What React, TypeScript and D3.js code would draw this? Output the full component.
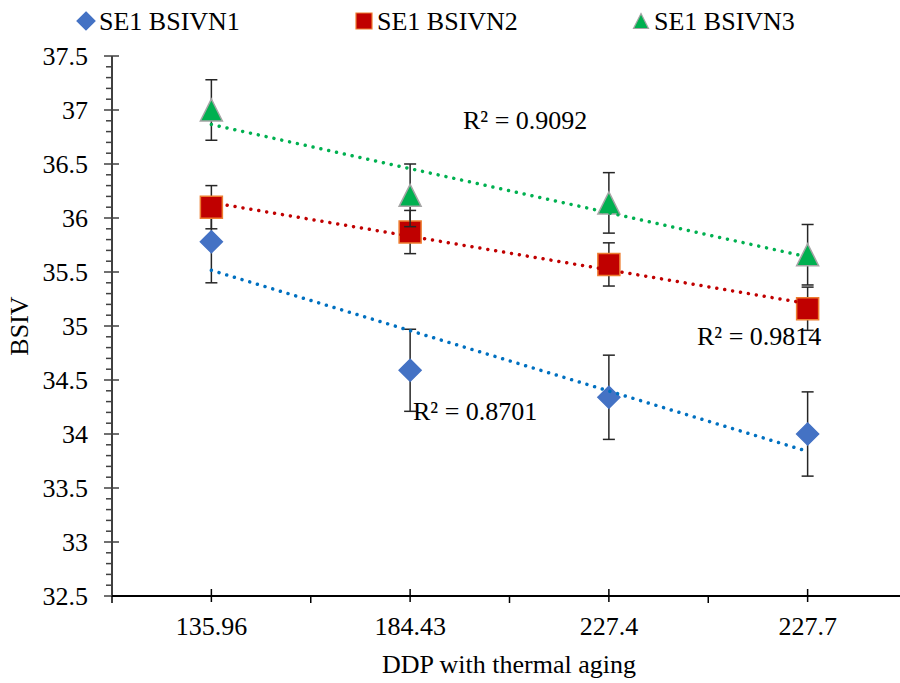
import React from 'react';
import * as d3 from 'd3';

const categories = ['135.96', '184.43', '227.4', '227.7'];
const seriesNames = ['SE1 BSIVN1', 'SE1 BSIVN2', 'SE1 BSIVN3'];
const bsivn1 = [35.78, 34.59, 34.34, 34.0];
const bsivn2 = [36.1, 35.87, 35.57, 35.16];
const bsivn3 = [37.0, 36.21, 36.14, 35.66];
const err1 = [0.38, 0.38, 0.39, 0.39];
const err2 = [0.2, 0.2, 0.2, 0.2];
const err3 = [0.28, 0.29, 0.28, 0.28];
const r2Labels = ['R² = 0.8701', 'R² = 0.9814', 'R² = 0.9092'];
const yTicks = [32.5, 33, 33.5, 34, 34.5, 35, 35.5, 36, 36.5, 37, 37.5];

const W = 900, H = 683;
const FONT = '"Liberation Serif", "Times New Roman", serif';

const seriesStyles = [
  { fill: '#4472C4', stroke: '#4472C4', trend: '#0070C0', shape: 'diamond' },
  { fill: '#C00000', stroke: '#ED7D31', trend: '#C00000', shape: 'square' },
  { fill: '#00B050', stroke: '#A5A5A5', trend: '#00B050', shape: 'triangle' },
];
const r2Pos = [
  { x: 413, y: 420 },
  { x: 697, y: 345 },
  { x: 463, y: 129 },
];

function markerPath(shape: string, s: number) {
  const h = s / 2;
  if (shape === 'diamond') return `M0,${-h}L${h},0L0,${h}L${-h},0Z`;
  if (shape === 'square') return `M${-h},${-h}H${h}V${h}H${-h}Z`;
  return `M0,${-h}L${h},${h}L${-h},${h}Z`;
}

function regression(vals: number[]) {
  const xs = vals.map((_, i) => i + 1);
  const mx = d3.mean(xs)!;
  const my = d3.mean(vals)!;
  let num = 0, den = 0;
  xs.forEach((x, i) => { num += (x - mx) * (vals[i] - my); den += (x - mx) ** 2; });
  const b = num / den;
  const a = my - b * mx;
  return (x: number) => a + b * x;
}

export default function App() {
  const x = d3.scaleBand<string>().domain(categories).range([112, 907]).paddingInner(0).paddingOuter(0);
  const y = d3.scaleLinear().domain([32.5, 37.5]).range([596, 56]);
  const bw = x.bandwidth();
  const cx = (c: string) => (x(c) as number) + bw / 2;
  const data = [bsivn1, bsivn2, bsivn3];
  const errs = [err1, err2, err3];
  const minor = d3.range(325, 376, 1).filter(v => v % 5 !== 0).map(v => v / 10);

  return (
    <svg width={W} height={H} style={{ position: 'absolute', left: 0, top: 0, background: '#fff' }} fontFamily={FONT}>
      <rect width={W} height={H} fill="#fff" />
      {/* y axis */}
      <line x1={112} x2={112} y1={y(37.5)} y2={y(32.5)} stroke="#404040" strokeWidth={2} />
      {minor.map(v => (
        <line key={'m' + v} x1={106} x2={112} y1={y(v)} y2={y(v)} stroke="#404040" strokeWidth={1.5} />
      ))}
      {yTicks.map(v => (
        <g key={'y' + v}>
          <line x1={104} x2={119} y1={y(v)} y2={y(v)} stroke="#404040" strokeWidth={1.5} />
          <text x={88} y={y(v)} dy="0.34em" textAnchor="end" fontSize={26} fill="#000">{String(v)}</text>
        </g>
      ))}
      {/* x axis */}
      <line x1={112} x2={W} y1={y(32.5)} y2={y(32.5)} stroke="#000" strokeWidth={2} />
      {categories.map(c => (
        <g key={'x' + c}>
          <line x1={x(c)} x2={x(c)} y1={y(32.5)} y2={y(32.5) + 7} stroke="#000" strokeWidth={1.5} />
          <line x1={cx(c)} x2={cx(c)} y1={y(32.5) - 7} y2={y(32.5) + 6} stroke="#000" strokeWidth={1.5} />
          <text x={cx(c)} y={635} textAnchor="middle" fontSize={26} fill="#000">{c}</text>
        </g>
      ))}
      <text x={509} y={673} textAnchor="middle" fontSize={26} fill="#000">DDP with thermal aging</text>
      <text transform={`translate(28,${(y(37.5) + y(32.5)) / 2}) rotate(-90)`} textAnchor="middle" fontSize={26} fill="#000">BSIV</text>

      {/* series: error bars + markers */}
      {data.map((vals, si) => (
        <g key={'s' + si}>
          {vals.map((v, i) => {
            const px = cx(categories[i]);
            const e = errs[si][i];
            return (
              <g key={i}>
                <line x1={px} x2={px} y1={y(v + e)} y2={y(v - e)} stroke="#262626" strokeWidth={1.5} />
                <line x1={px - 6} x2={px + 6} y1={y(v + e)} y2={y(v + e)} stroke="#262626" strokeWidth={1.5} />
                <line x1={px - 6} x2={px + 6} y1={y(v - e)} y2={y(v - e)} stroke="#262626" strokeWidth={1.5} />
              </g>
            );
          })}
          {vals.map((v, i) => (
            <path key={'p' + i} transform={`translate(${cx(categories[i])},${y(v)})`}
              d={markerPath(seriesStyles[si].shape, 22)}
              fill={seriesStyles[si].fill} stroke={seriesStyles[si].stroke} strokeWidth={1.5} />
          ))}
        </g>
      ))}

      {/* trendlines */}
      {data.map((vals, si) => {
        const f = regression(vals);
        return (
          <line key={'t' + si} x1={cx(categories[0])} y1={y(f(1))}
            x2={cx(categories[categories.length - 1])} y2={y(f(categories.length))}
            stroke={seriesStyles[si].trend} strokeWidth={3.5} strokeLinecap="round" strokeDasharray="0.01 8" />
        );
      })}

      {/* R² labels */}
      {r2Labels.map((t, i) => (
        <text key={'r' + i} x={r2Pos[i].x} y={r2Pos[i].y} fontSize={26} fill="#000">{t}</text>
      ))}

      {/* legend */}
      {seriesNames.map((n, i) => {
        const lx = [86, 364, 641][i];
        const size = [18, 16, 15][i];
        return (
          <g key={'l' + i}>
            <path transform={`translate(${lx},21)`} d={markerPath(seriesStyles[i].shape, size)}
              fill={seriesStyles[i].fill} stroke={seriesStyles[i].stroke} strokeWidth={1.2} />
            <text x={lx + 13} y={30} fontSize={26} fill="#000">{n}</text>
          </g>
        );
      })}
    </svg>
  );
}
